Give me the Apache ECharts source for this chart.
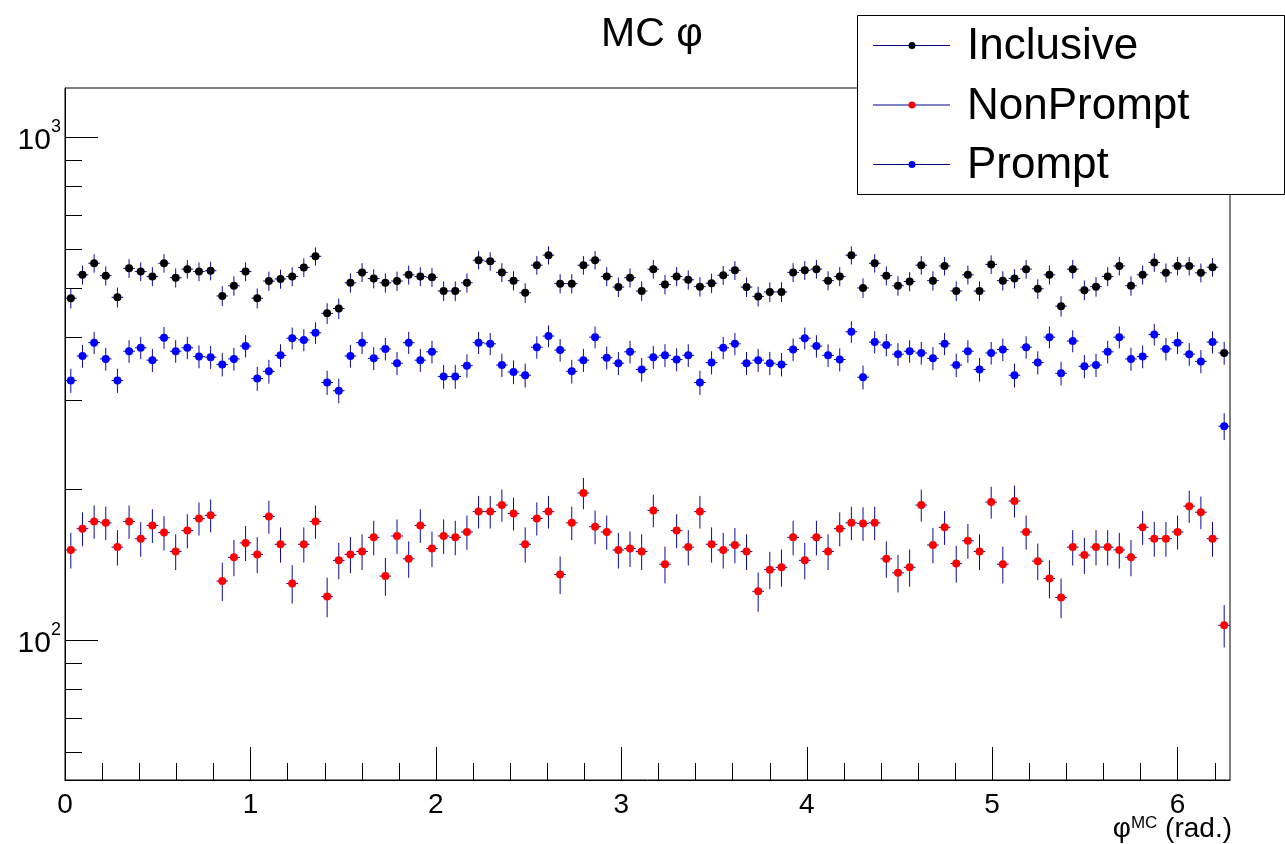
<!DOCTYPE html>
<html>
<head>
<meta charset="utf-8">
<script src="https://cdn.jsdelivr.net/npm/echarts@6/dist/echarts.min.js"></script>
<style>
html,body{margin:0;padding:0;background:#fff;}
#chart{width:1285px;height:844px;}
</style>
</head>
<body>
<div id="chart"></div>
<script>
// ---- data (bin contents; 100 equal bins over [0, 2π]) ----
const NBINS = 100;
const X_MIN = 0;
const X_MAX = 2 * Math.PI;
const Y_MIN = 52.7;
const Y_MAX = 1251;

const seriesNames = ['Inclusive', 'NonPrompt', 'Prompt'];

const inclusive = [
  478, 532, 561, 530, 480, 548, 540, 528, 561, 525,
  546, 540, 542, 483, 506, 540, 478, 517, 522, 528,
  550, 579, 446, 456, 513, 538, 523, 513, 517, 532,
  528, 526, 494, 494, 513, 569, 566, 538, 518, 490,
  556, 582, 511, 511, 556, 569, 528, 503, 525, 494,
  546, 509, 528, 520, 504, 512, 531, 543, 503, 482,
  492, 492, 538, 543, 546, 518, 528, 582, 501, 561,
  530, 506, 516, 556, 518, 554, 494, 532, 494, 558,
  518, 523, 546, 499, 532, 461, 546, 496, 504, 528,
  554, 506, 532, 563, 537, 554, 554, 537, 551, 372
];

const nonPrompt = [
  151, 166.5, 172, 171, 153, 172, 159, 169, 163.5, 150,
  165, 174.5, 177, 131, 146, 156, 148, 176, 155, 129.5,
  155, 172, 122, 144, 148, 150, 160, 134, 161, 145,
  169, 152, 161, 160, 164, 180, 180, 185.5, 178.5, 155,
  174.5, 180, 135, 171, 196, 168, 164, 151, 152, 150,
  181, 141.5, 165, 153, 180, 155, 151, 154.5, 150, 125,
  138, 139.5, 160, 144, 160, 150, 166.5, 171, 170.5, 171,
  145, 136, 139.5, 185.5, 154.5, 167.5, 142, 157.5, 150, 188,
  141.5, 189, 164, 143.5, 132.5, 121.5, 153, 147.5, 153, 153,
  151, 146, 167.5, 159, 159, 164, 184.5, 179.5, 159, 107
];

const prompt = [
  328, 367, 390, 362, 328, 375, 381, 360, 399, 375,
  381, 366, 365, 353, 362, 384, 331, 342, 368, 398,
  395, 408, 325, 313, 367, 390, 363, 379, 355, 390,
  360, 374, 334, 334, 351, 390, 388, 352, 341, 336,
  382, 402, 377, 342, 360, 400, 364, 355, 374, 345,
  365, 368, 361, 368, 325, 356, 381, 388, 355, 360,
  355, 353, 378, 398, 384, 368, 361, 410, 333, 391,
  386, 370, 375, 372, 363, 388, 352, 375, 345, 372,
  378, 336, 382, 356, 400, 339, 393, 350, 352, 374,
  400, 362, 366, 405, 379, 390, 370, 358, 391, 266
];

const xMajorTicks = [0, 1, 2, 3, 4, 5, 6];
const xMinorTicks = [0.2, 0.4, 0.6, 0.8, 1.2, 1.4, 1.6, 1.8, 2.2, 2.4, 2.6, 2.8,
  3.2, 3.4, 3.6, 3.8, 4.2, 4.4, 4.6, 4.8, 5.2, 5.4, 5.6, 5.8, 6.2];
const yMajorTicks = [100, 1000];
const yMinorTicks = [60, 70, 80, 90, 200, 300, 400, 500, 600, 700, 800, 900];
const yTickLabels = { 100: '2', 1000: '3' };
const xAxisTitle = { base: 'φ', sup: 'MC', rest: ' (rad.)' };
const chartTitle = 'MC φ';

// ---- styling ----
const FONT = '"Liberation Sans", Arial, Helvetica, sans-serif';
const ERR_COLOR = '#0a0a9c';
const markerColors = ['#000000', '#ff0000', '#0000ff'];
const MAJOR_LEN = 33, MINOR_LEN = 17;

const binW = (X_MAX - X_MIN) / NBINS;
function binCenter(i) { return X_MIN + (i + 0.5) * binW; }

function pointData(vals) { return vals.map((v, i) => [binCenter(i), v]); }
function errData(vals) { return vals.map((v, i) => [binCenter(i), v, Math.sqrt(v)]); }

function renderErr(params, api) {
  const x = api.value(0), y = api.value(1), e = api.value(2);
  const top = api.coord([x, y + e]);
  const bot = api.coord([x, Math.max(y - e, Y_MIN)]);
  const l = api.coord([x - binW / 2, y]);
  const r = api.coord([x + binW / 2, y]);
  const style = { stroke: ERR_COLOR, lineWidth: 1 };
  return {
    type: 'group',
    children: [
      { type: 'line', shape: { x1: top[0], y1: top[1], x2: bot[0], y2: bot[1] }, style: style },
      { type: 'line', shape: { x1: l[0], y1: l[1], x2: r[0], y2: r[1] }, style: style }
    ]
  };
}

// tick marks, placed through the axes' own scales
const tickData = [];
xMajorTicks.forEach(v => tickData.push([v, Y_MIN, 0, MAJOR_LEN]));
xMinorTicks.forEach(v => tickData.push([v, Y_MIN, 0, MINOR_LEN]));
yMajorTicks.forEach(v => tickData.push([X_MIN, v, 1, MAJOR_LEN]));
yMinorTicks.forEach(v => tickData.push([X_MIN, v, 1, MINOR_LEN]));

function renderTick(params, api) {
  const p = api.coord([api.value(0), api.value(1)]);
  const kind = api.value(2), len = api.value(3);
  let shape;
  if (kind === 0) {
    const x = Math.round(p[0]) + 0.5;
    shape = { x1: x, y1: p[1], x2: x, y2: p[1] - len };
  } else {
    const y = Math.round(p[1]) + 0.5;
    shape = { x1: p[0], y1: y, x2: p[0] + len, y2: y };
  }
  return { type: 'line', shape: shape, style: { stroke: '#000', lineWidth: 1 } };
}

const allData = [inclusive, nonPrompt, prompt];
const series = [];
allData.forEach((vals, k) => {
  series.push({
    name: seriesNames[k] + ' err',
    type: 'custom',
    renderItem: renderErr,
    data: errData(vals),
    encode: { x: 0, y: 1 },
    z: 2 + k * 2,
    silent: true
  });
  series.push({
    name: seriesNames[k],
    type: 'scatter',
    data: pointData(vals),
    symbol: 'circle',
    symbolSize: 8,
    itemStyle: { color: markerColors[k], opacity: 1 },
    z: 3 + k * 2
  });
});
series.push({
  name: 'ticks',
  type: 'custom',
  renderItem: renderTick,
  data: tickData,
  encode: { x: 0, y: 1 },
  clip: false,
  silent: true,
  z: 20
});

// legend box (ROOT style)
const legendChildren = [{
  type: 'rect',
  shape: { x: 857.5, y: 15.5, width: 427, height: 179 },
  style: { fill: '#fff', stroke: '#000', lineWidth: 1 }
}];
seriesNames.forEach((name, k) => {
  const cy = 45 + 59.5 * k;
  legendChildren.push({ type: 'line', shape: { x1: 873, y1: cy + 0.5, x2: 950, y2: cy + 0.5 }, style: { stroke: '#00008b', lineWidth: 1 } });
  legendChildren.push({ type: 'circle', shape: { cx: 912, cy: cy + 0.5, r: 3.5 }, style: { fill: markerColors[k] } });
  legendChildren.push({ type: 'text', x: 967, y: cy + 2, style: { text: name, fontSize: 44, fontFamily: FONT, fill: '#000', align: 'left', verticalAlign: 'middle' } });
});

// x-axis title (ROOT puts it under the right end of the axis)
const axisTitle = {
  type: 'text',
  right: 53,
  top: 815,
  z: 100,
  style: {
    text: '{phi|' + xAxisTitle.base + '}{sup|' + xAxisTitle.sup + '}{t|' + xAxisTitle.rest + '}',
    fill: '#000',
    fontFamily: FONT,
    rich: {
      phi: { fontSize: 28, fontFamily: FONT, fill: '#000', verticalAlign: 'bottom' },
      sup: { fontSize: 17, fontFamily: FONT, fill: '#000', verticalAlign: 'top' },
      t: { fontSize: 28, fontFamily: FONT, fill: '#000', verticalAlign: 'bottom' }
    }
  }
};

const option = {
  animation: false,
  backgroundColor: '#fff',
  title: {
    text: chartTitle,
    left: 596,
    top: 9,
    textStyle: { fontSize: 41, fontWeight: 'normal', fontFamily: FONT, color: '#000' }
  },
  grid: {
    left: 65, right: 55, top: 88, bottom: 64,
    show: true, borderColor: '#000', borderWidth: 1, backgroundColor: 'transparent',
    containLabel: false, outerBoundsMode: 'none'
  },
  xAxis: {
    type: 'value',
    min: X_MIN, max: X_MAX, interval: 1,
    axisLine: { show: true, onZero: false, lineStyle: { color: '#000', width: 1 } },
    axisTick: { show: false },
    splitLine: { show: false },
    axisLabel: {
      show: true, showMaxLabel: false, margin: 11,
      fontSize: 28, fontFamily: FONT, color: '#000',
      formatter: v => (Math.abs(v - Math.round(v)) < 1e-9 ? String(Math.round(v)) : '')
    }
  },
  yAxis: {
    type: 'log', logBase: 10,
    min: Y_MIN, max: Y_MAX,
    axisLine: { show: true, lineStyle: { color: '#000', width: 1 } },
    axisTick: { show: false },
    splitLine: { show: false },
    minorTick: { show: false },
    axisLabel: {
      show: true, margin: 4, showMinLabel: false, showMaxLabel: false,
      fontFamily: FONT, color: '#000',
      formatter: v => {
        for (const key in yTickLabels) {
          if (Math.abs(v - Number(key)) < 1e-6 * Number(key)) return '{b|10}{s|' + yTickLabels[key] + '}';
        }
        return '';
      },
      rich: {
        b: { fontSize: 30, fontFamily: FONT, color: '#000', padding: [8, 0, 0, 0] },
        s: { fontSize: 18, fontFamily: FONT, color: '#000', verticalAlign: 'top', padding: [0, 0, 12, 0] }
      }
    }
  },
  graphic: [{ type: 'group', z: 100, children: legendChildren }, axisTitle],
  series: series
};

const chart = echarts.init(document.getElementById('chart'), null, { renderer: 'canvas' });
chart.setOption(option);
</script>
</body>
</html>
